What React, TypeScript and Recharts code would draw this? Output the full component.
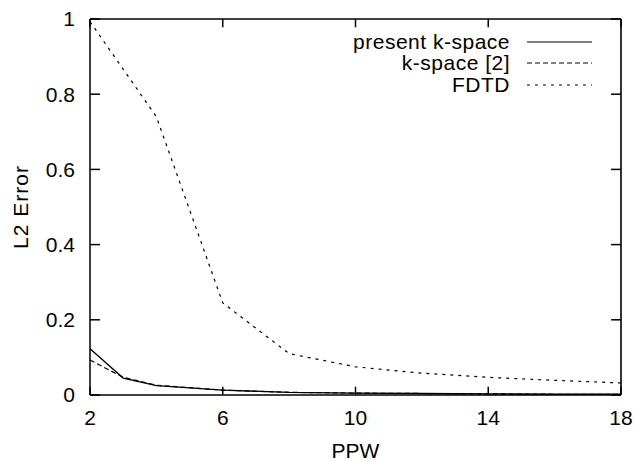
import React from 'react';
import { LineChart, Line, XAxis, YAxis, ReferenceLine } from 'recharts';

const ppwK = [2, 3, 4, 6, 8, 10, 12, 14, 16, 18];
const presentK = [0.123, 0.045, 0.025, 0.013, 0.007, 0.005, 0.004, 0.003, 0.002, 0.002];
const kspace2 = [0.093, 0.047, 0.026, 0.013, 0.007, 0.005, 0.004, 0.003, 0.002, 0.002];
const ppwF = [2, 4, 6, 8, 10, 12, 14, 16, 18];
const fdtd = [0.993, 0.74, 0.245, 0.11, 0.075, 0.058, 0.047, 0.039, 0.032];

const xTicks = [2, 6, 10, 14, 18];
const yTicks = [0, 0.2, 0.4, 0.6, 0.8, 1];

const seriesNames = ['present k-space', 'k-space [2]', 'FDTD'];

const presentData = ppwK.map((x, i) => ({ x, v: presentK[i] }));
const kspaceData = ppwK.map((x, i) => ({ x, v: kspace2[i] }));
const fdtdData = ppwF.map((x, i) => ({ x, v: fdtd[i] }));

const X_MIN = 2, X_MAX = 18, Y_MIN = 0, Y_MAX = 1;
const X_TICK_LEN = 0.022; // in y data units (~8px)
const Y_TICK_LEN = 0.3; // in x data units (~10px)

type P = { x: number; y: number };
const tickSegs: [P, P][] = [
  ...xTicks.map((t) => [{ x: t, y: Y_MIN }, { x: t, y: Y_MIN + X_TICK_LEN }] as [P, P]),
  ...xTicks.map((t) => [{ x: t, y: Y_MAX }, { x: t, y: Y_MAX - X_TICK_LEN }] as [P, P]),
  ...yTicks.map((t) => [{ x: X_MIN, y: t }, { x: X_MIN + Y_TICK_LEN, y: t }] as [P, P]),
  ...yTicks.map((t) => [{ x: X_MAX, y: t }, { x: X_MAX - Y_TICK_LEN, y: t }] as [P, P]),
];

const FONT = '"Liberation Sans", Arial, Helvetica, sans-serif';

const dashes = ['', '5 3', '3 5'];

const LegendBox = () => (
  <div style={{ position: 'absolute', top: 31, right: 44, fontFamily: FONT, fontSize: 21, letterSpacing: 0.5, color: '#000' }}>
    {seriesNames.map((n, i) => (
      <div key={n} style={{ display: 'flex', alignItems: 'center', justifyContent: 'flex-end', height: 21.5 }}>
        <span style={{ whiteSpace: 'nowrap' }}>{n}</span>
        <svg width={82} height={10}>
          <line x1={17} x2={82} y1={5} y2={5} stroke="#000" strokeWidth={1.2} strokeDasharray={dashes[i] || undefined} />
        </svg>
      </div>
    ))}
  </div>
);

const YLabel = (props: any) => {
  const vb = props.viewBox || { x: 0, y: 0, width: 0, height: 0 };
  const cx = vb.x + 20;
  const cy = vb.y + vb.height / 2;
  return (
    <text
      x={cx}
      y={cy}
      transform={`rotate(-90 ${cx} ${cy})`}
      textAnchor="middle"
      dominantBaseline="central"
      style={{ fontFamily: FONT, fontSize: 21, letterSpacing: 1, fill: '#000' }}
    >
      L2 Error
    </text>
  );
};

export default function App() {
  const tickStyle = { fontFamily: FONT, fontSize: 21, fill: '#000' };
  return (
    <div style={{ position: 'absolute', left: 0, top: 0, width: 636, height: 462, background: '#fff' }}>
      <LineChart width={636} height={462} margin={{ top: 19, right: 15, bottom: 0, left: 0 }}>
        <XAxis
          dataKey="x"
          type="number"
          domain={[X_MIN, X_MAX]}
          ticks={xTicks}
          tickLine={false}
          tickSize={0}
          tickMargin={15}
          stroke="#000"
          strokeWidth={1.5}
          tick={tickStyle}
          height={67}
          label={{ value: 'PPW', position: 'insideBottom', offset: 4, style: { fontFamily: FONT, fontSize: 21, fill: '#000' } }}
        />
        <YAxis
          type="number"
          domain={[Y_MIN, Y_MAX]}
          ticks={yTicks}
          tickLine={false}
          tickSize={0}
          tickMargin={15}
          stroke="#000"
          strokeWidth={1.5}
          tick={tickStyle}
          width={90}
          label={<YLabel />}
        />
        <ReferenceLine y={Y_MAX} stroke="#000" strokeWidth={1.6} />
        <ReferenceLine x={X_MAX} stroke="#000" strokeWidth={1.6} />
        {tickSegs.map((s, i) => (
          <ReferenceLine key={'tk' + i} segment={s} stroke="#000" strokeWidth={1.5} />
        ))}
        <Line data={presentData} dataKey="v" name={seriesNames[0]} stroke="#000" strokeWidth={1.3} dot={false} isAnimationActive={false} />
        <Line data={kspaceData} dataKey="v" name={seriesNames[1]} stroke="#000" strokeWidth={1.2} strokeDasharray="5 3" dot={false} isAnimationActive={false} />
        <Line data={fdtdData} dataKey="v" name={seriesNames[2]} stroke="#000" strokeWidth={1.2} strokeDasharray="3 5" dot={false} isAnimationActive={false} />
      </LineChart>
      <LegendBox />
    </div>
  );
}
